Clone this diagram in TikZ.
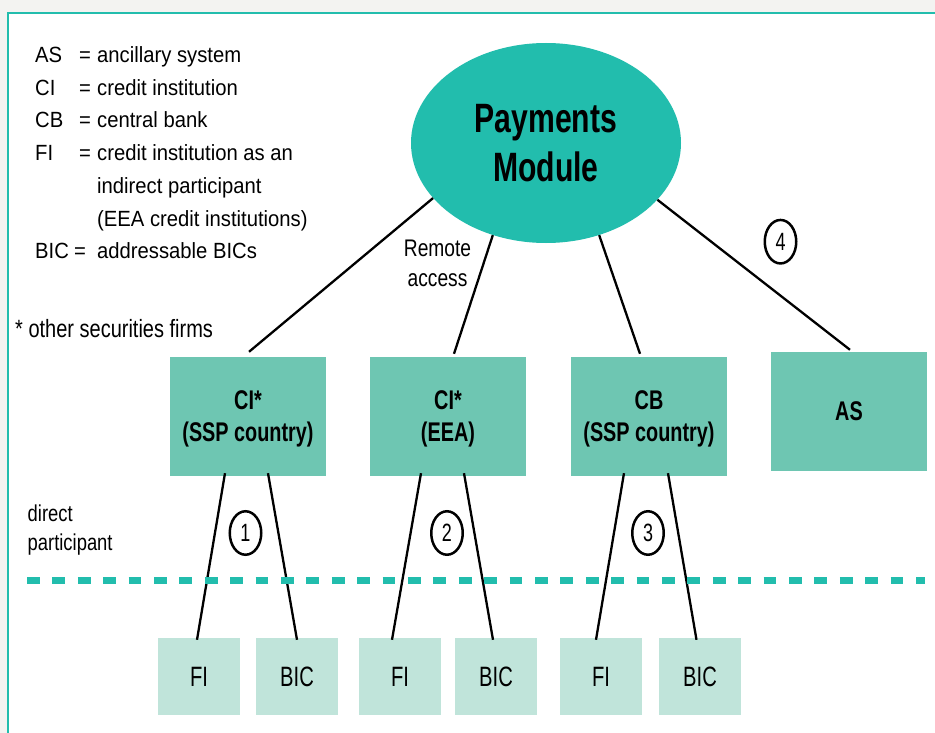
\documentclass[tikz,border=0pt]{standalone}
\usepackage{fontspec}
\setmainfont{Liberation Sans}
\newfontfamily\fLeg[FakeStretch=0.92]{Liberation Sans}
\newfontfamily\fMid[FakeStretch=0.8]{Liberation Sans}
\newfontfamily\fBold[FakeStretch=0.735]{Liberation Sans Bold}
\newfontfamily\fCond[FakeStretch=0.72]{Liberation Sans}
\usetikzlibrary{shapes.geometric,calc}
\definecolor{teal1}{HTML}{22BDAD}
\definecolor{boxc}{HTML}{6EC6B2}
\definecolor{lightc}{HTML}{C0E4DA}
\definecolor{frameg}{HTML}{F3F3F1}
\tikzset{
 legtxt/.style={font=\fLeg\fontsize{22}{33}\selectfont, inner sep=0pt, anchor=base west},
 midbox/.style={fill=boxc, minimum width=156pt, minimum height=119pt, inner sep=0pt, align=center, font=\fBold\fontsize{27}{32}\selectfont, text depth=0pt},
 leaf/.style={fill=lightc, minimum width=82pt, minimum height=77pt, inner sep=0pt, font=\fCond\fontsize{28}{30}\selectfont, text depth=0pt},
 num/.style={ellipse, draw, line width=2.5pt, minimum width=31.5pt, minimum height=43.5pt, inner sep=0pt, font=\fCond\fontsize{25}{27}\selectfont},
 link/.style={line width=2.3pt},
}
\begin{document}
\begin{tikzpicture}[x=1pt,y=-1pt]
\useasboundingbox (0,0) rectangle (935,733);
\clip (0,0) rectangle (935,733);
\fill[frameg] (0,0) rectangle (935,733);
\draw[teal1, line width=2.5pt, fill=white] (8,13) rectangle (980,780);

% legend
\node[legtxt] (lAS) at (35,62.5) {AS};
\node[legtxt] (eAS) at (79,62.5) {=};
\node[legtxt] (dAS) at (97,62.5) {ancillary system};
\node[legtxt] (lCI) at (35,95.2) {CI};
\node[legtxt] (eCI) at (79,95.2) {=};
\node[legtxt] (dCI) at (97,95.2) {credit institution};
\node[legtxt] (lCB) at (35,128) {CB};
\node[legtxt] (eCB) at (79,128) {=};
\node[legtxt] (dCB) at (97,128) {central bank};
\node[legtxt] (lFI) at (35,160.7) {FI};
\node[legtxt] (eFI) at (79,160.7) {=};
\node[legtxt] (dFI) at (97,160.7) {credit institution as an};
\node[legtxt] (dFI2) at (97,193.4) {indirect participant};
\node[legtxt] (dFI3) at (97,226.1) {(EEA credit institutions)};
\node[legtxt] (lBIC) at (35,258.8) {BIC};
\node[legtxt] (eBIC) at (74,258.8) {=};
\node[legtxt] (dBIC) at (97,258.8) {addressable BICs};

\node[font=\fMid\fontsize{25}{30}\selectfont, inner sep=0pt, anchor=base west] (osf) at (15,337) {* other securities firms};
\node[font=\fMid\fontsize{23}{28.3}\selectfont, align=left, inner sep=0pt, anchor=north west] (dp) at (27.5,505) {direct\\participant};
\node[font=\fMid\fontsize{24}{30}\selectfont, align=center, inner sep=0pt, anchor=north] (ra) at (437.5,239.5) {Remote\\access};

% main module
\node[ellipse, fill=teal1, minimum width=270pt, minimum height=200pt, align=center, font=\fBold\fontsize{41}{49}\selectfont, text depth=0pt] (pm) at (546,143) {Payments\\Module};

% participant boxes
\node[midbox] (ci1) at (248,416.5) {CI*\\(SSP country)};
\node[midbox] (ci2) at (448,416.5) {CI*\\(EEA)};
\node[midbox] (cb) at (649,416.5) {CB\\(SSP country)};
\node[midbox] (as) at (849,411.5) {AS};

% indirect boxes
\node[leaf] (fi1) at (199,676.5) {FI};
\node[leaf] (bic1) at (297,676.5) {BIC};
\node[leaf] (fi2) at (400,676.5) {FI};
\node[leaf] (bic2) at (496,676.5) {BIC};
\node[leaf] (fi3) at (601,676.5) {FI};
\node[leaf] (bic3) at (700,676.5) {BIC};

% numbers
\node[num] (n1) at (245.5,533) {1};
\node[num] (n2) at (447,533) {2};
\node[num] (n3) at (648,533) {3};
\node[num] (n4) at (780.5,241.7) {4};

% connectors
\draw[link] (pm.206.8) -- ($(ci1.north)+(1,-5)$);
\draw[link] (pm.240.1) -- ($(ci2.north)+(6,-3)$);
\draw[link] (pm.300.6) -- ($(cb.north)+(-9,-3)$);
\draw[link] (pm.333.6) -- ($(as.north)+(1,-2)$);

\draw[link] ($(ci1.south)+(-23,-3)$) -- ($(fi1.north)+(-2,2)$);
\draw[link] ($(ci1.south)+(20,-3)$) -- ($(bic1.north)+(0,2)$);
\draw[link] ($(ci2.south)+(-27,-3)$) -- ($(fi2.north)+(-8,2)$);
\draw[link] ($(ci2.south)+(16,-3)$) -- ($(bic2.north)+(-3,2)$);
\draw[link] ($(cb.south)+(-25,-3)$) -- ($(fi3.north)+(-5,2)$);
\draw[link] ($(cb.south)+(19,-3)$) -- ($(bic3.north)+(-3.5,2)$);

% separator
\coordinate (sepL) at (27,580.7);
\coordinate (sepR) at (925,580.7);
\draw[teal1, line width=7pt, dash pattern=on 12.7pt off 12.7pt] (sepL) -- (sepR);
\end{tikzpicture}
\end{document}
